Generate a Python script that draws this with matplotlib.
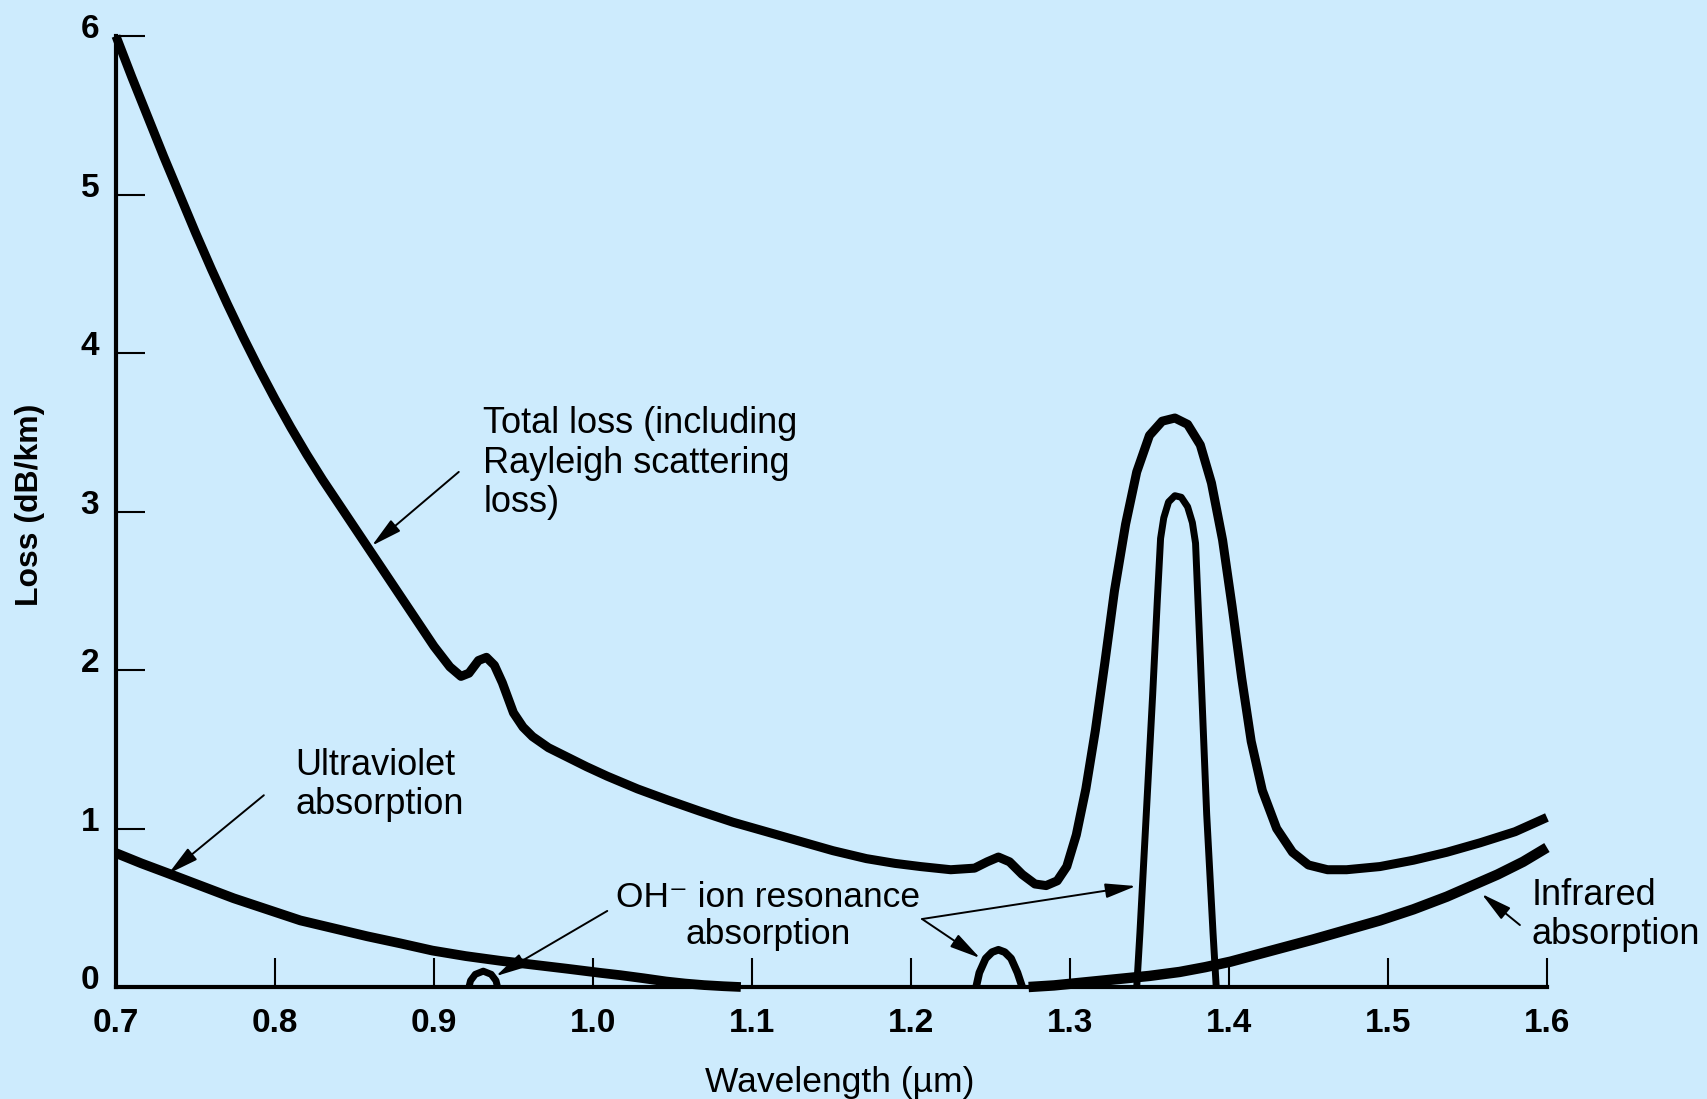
import matplotlib.pyplot as plt
from matplotlib.transforms import ScaledTranslation

# wavelength (um) and loss (dB/km)
total_x = [0.700, 0.710, 0.720, 0.730, 0.740, 0.750, 0.760, 0.770, 0.780, 0.790, 0.800, 0.810,
           0.820, 0.830, 0.840, 0.850, 0.860, 0.870, 0.880, 0.890, 0.900, 0.910, 0.917, 0.922,
           0.928, 0.933, 0.938, 0.943, 0.950, 0.956, 0.962, 0.972, 0.984, 0.996, 1.009, 1.028,
           1.047, 1.067, 1.088, 1.109, 1.130, 1.151, 1.172, 1.190, 1.206, 1.225, 1.240, 1.248,
           1.255, 1.262, 1.270, 1.278, 1.285, 1.292, 1.298, 1.304, 1.310, 1.316, 1.322, 1.328,
           1.335, 1.342, 1.350, 1.358, 1.366, 1.374, 1.382, 1.389, 1.396, 1.402, 1.408, 1.414,
           1.421, 1.430, 1.440, 1.450, 1.462, 1.474, 1.495, 1.516, 1.537, 1.558, 1.580, 1.600]
total_y = [6.00, 5.74, 5.49, 5.24, 5.00, 4.76, 4.53, 4.31, 4.10, 3.90, 3.71, 3.53,
           3.36, 3.20, 3.05, 2.90, 2.75, 2.60, 2.45, 2.30, 2.15, 2.02, 1.96, 1.98,
           2.06, 2.08, 2.03, 1.92, 1.73, 1.64, 1.58, 1.51, 1.45, 1.39, 1.33, 1.25,
           1.18, 1.11, 1.04, 0.98, 0.92, 0.86, 0.81, 0.78, 0.76, 0.74, 0.75, 0.79,
           0.82, 0.79, 0.71, 0.65, 0.64, 0.67, 0.76, 0.96, 1.25, 1.62, 2.05, 2.50,
           2.92, 3.25, 3.48, 3.57, 3.59, 3.55, 3.42, 3.18, 2.82, 2.40, 1.95, 1.55,
           1.24, 1.00, 0.85, 0.77, 0.74, 0.74, 0.76, 0.80, 0.85, 0.91, 0.98, 1.07]

uv_x = [0.700, 0.716, 0.732, 0.753, 0.774, 0.795, 0.816, 0.837, 0.858, 0.879, 0.899, 0.920,
        0.942, 0.963, 0.984, 1.004, 1.017, 1.032, 1.046, 1.058, 1.070, 1.082, 1.093]
uv_y = [0.845, 0.78, 0.72, 0.64, 0.56, 0.49, 0.42, 0.37, 0.32, 0.275, 0.23, 0.195,
        0.165, 0.14, 0.115, 0.09, 0.075, 0.055, 0.035, 0.022, 0.012, 0.005, 0.0]

ir_x = [1.274, 1.290, 1.300, 1.315, 1.330, 1.350, 1.369, 1.385, 1.401, 1.427, 1.453, 1.474,
        1.495, 1.516, 1.537, 1.553, 1.569, 1.585, 1.600]
ir_y = [0.0, 0.01, 0.02, 0.035, 0.05, 0.07, 0.095, 0.125, 0.16, 0.23, 0.30, 0.36,
        0.42, 0.49, 0.57, 0.64, 0.71, 0.79, 0.88]

# OH- resonance peaks
oh1_x = [0.922, 0.923, 0.926, 0.931, 0.936, 0.939, 0.940]
oh1_y = [0.0, 0.04, 0.08, 0.10, 0.08, 0.04, 0.0]
oh2_x = [1.241, 1.243, 1.247, 1.251, 1.255, 1.259, 1.263, 1.267, 1.270]
oh2_y = [0.0, 0.09, 0.18, 0.22, 0.235, 0.22, 0.18, 0.09, 0.0]
oh3_x = [1.342, 1.344, 1.348, 1.352, 1.355, 1.357, 1.359, 1.362, 1.366, 1.370, 1.374, 1.377,
         1.379, 1.382, 1.386, 1.390, 1.392]
oh3_y = [0.0, 0.34, 1.09, 1.84, 2.45, 2.83, 2.96, 3.06, 3.10, 3.09, 3.03, 2.93,
         2.80, 2.08, 1.09, 0.34, 0.0]

xticks = [0.7, 0.8, 0.9, 1.0, 1.1, 1.2, 1.3, 1.4, 1.5, 1.6]
xtick_labels = ['0.7', '0.8', '0.9', '1.0', '1.1', '1.2', '1.3', '1.4', '1.5', '1.6']
yticks = [0, 1, 2, 3, 4, 5, 6]

bg = '#cdebfd'
plt.rcParams['font.family'] = ['Liberation Sans', 'DejaVu Sans']

fig = plt.figure(figsize=(17.08, 10.99), dpi=100, facecolor=bg)
ax = fig.add_axes([0.0679, 0.1019, 0.8378, 0.8653], facecolor=bg)

line_kw = dict(color='black', solid_capstyle='butt', solid_joinstyle='round', clip_on=False)
ax.plot(total_x, total_y, lw=6.5, **line_kw)
ax.plot(uv_x, uv_y, lw=7, **line_kw)
ax.plot(ir_x, ir_y, lw=7.5, **line_kw)
ax.plot(oh1_x, oh1_y, lw=5, **line_kw)
ax.plot(oh2_x, oh2_y, lw=5.5, **line_kw)
ax.plot(oh3_x, oh3_y, lw=5, **line_kw)

ax.set_xlim(0.7, 1.6)
ax.set_ylim(0, 6)
for s in ['top', 'right']:
    ax.spines[s].set_visible(False)
for s in ['left', 'bottom']:
    ax.spines[s].set_linewidth(3)

ax.set_xticks(xticks)
ax.set_xticklabels(xtick_labels)
ax.set_yticks(yticks)
ax.tick_params(direction='in', length=21, width=1.5, labelsize=24)
ax.tick_params(axis='x', pad=15)
ax.tick_params(axis='y', pad=12)
shift = ScaledTranslation(0, 0.1, fig.dpi_scale_trans)
for lab in ax.get_yticklabels() + ax.get_xticklabels():
    lab.set_fontweight('bold')
for lab in ax.get_yticklabels():
    lab.set_transform(lab.get_transform() + shift)

ax.set_ylabel('Loss (dB/km)', fontsize=23, fontweight='bold', va='center')
ax.yaxis.set_label_coords(-0.060, 0.507)
ax.set_xlabel('Wavelength (\u00b5m)', fontsize=25.5, va='center')
ax.xaxis.set_label_coords(0.506, -0.0999)

arrow = dict(arrowstyle='-|>,head_length=0.75,head_width=0.18', lw=1.4, color='black',
             mutation_scale=25, shrinkA=0, shrinkB=0)
txt = dict(fontsize=26, linespacing=1.15)

ax.annotate('', xy=(0.861, 2.785), xytext=(0.9156, 3.25), arrowprops=arrow)
ax.text(0.931, 3.306, 'Total loss (including\nRayleigh scattering\nloss)',
        ha='left', va='center', **txt)

ax.annotate('', xy=(0.733, 0.715), xytext=(0.793, 1.21), arrowprops=arrow)
ax.text(0.813, 1.274, 'Ultraviolet\nabsorption', ha='left', va='center', **txt)

ax.text(1.110, 0.448, 'OH\u207b ion resonance\nabsorption', ha='center', va='center',
        multialignment='center', fontsize=25.5, linespacing=1.15)
ax.annotate('', xy=(0.939, 0.069), xytext=(1.009, 0.48), arrowprops=arrow)
ax.annotate('', xy=(1.3415, 0.637), xytext=(1.207, 0.429), arrowprops=arrow)
ax.annotate('', xy=(1.2434, 0.183), xytext=(1.207, 0.429), arrowprops=arrow)

ax.annotate('', xy=(1.559, 0.587), xytext=(1.583, 0.391), arrowprops=arrow)
ax.text(1.5906, 0.454, 'Infrared\nabsorption', ha='left', va='center', clip_on=False, **txt)

fig.savefig('out.png', dpi=100, facecolor=bg)
